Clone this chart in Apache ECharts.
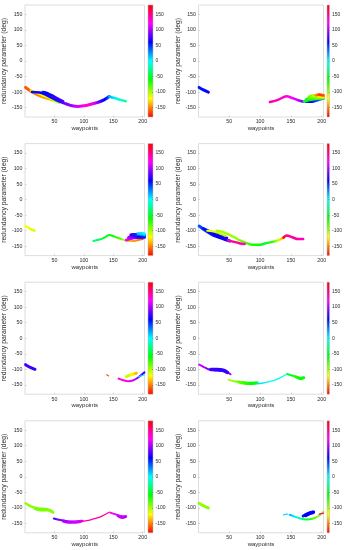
<!DOCTYPE html>
<html><head><meta charset="utf-8">
<script src="https://cdn.jsdelivr.net/npm/echarts@6/dist/echarts.min.js"></script>
<style>html,body{margin:0;padding:0;background:#fff}#c{width:345px;height:550px}</style>
</head><body><div id="c"></div><script>
// ---- tick labels ----
const xTicks = [50, 100, 150, 200];
const yTicks = [-150, -100, -50, 0, 50, 100, 150];
const cbTicks = [-150, -100, -50, 0, 50, 100, 150];
const cbRange = [-180, 180];
const xTitle = 'waypoints';
const yTitle = 'redundancy parameter (deg)';

// ---- data: [waypoint, redundancy parameter (deg), colour value (deg)] ----
// panel 1 (top left)
const p1_orange = [[1,-85,-160],[10,-97,-155],[20,-107,-150],[30,-115,-145],[40,-121,-138],[50,-128,-120]];
const p1_yellow = [[10,-95,-130],[20,-102,-125],[30,-110,-118],[40,-117,-110],[50,-126,-95],[58,-133,-70]];
const p1_blue1 = [[12,-100,55],[25,-101,60],[35,-108,62],[45,-118,65],[55,-127,70],[65,-135,80],[75,-141,90]];
const p1_blue2 = [[30,-100,55],[36,-102,60],[45,-110,65],[55,-120,70],[65,-130,78]];
const p1_main = [[70,-138,90],[80,-144,100],[90,-146,110],[100,-144,125],[110,-140,130],[118,-136,110],[125,-132,85],[135,-124,60],[143,-114,40]];
const p1_tail = [[143,-114,20],[152,-119,5],[162,-125,-10],[171,-129,-25]];
// panel 2 (top right)
const p2_start = [[1,-85,55],[8,-93,58],[16,-100,62]];
const p2_main = [[116,-132,140],[130,-124,135],[143,-113,130],[152,-119,120],[162,-126,105],[172,-131,80],[182,-131,60],[192,-127,45],[203,-121,30]];
const p2_g1 = [[172,-130,-40],[180,-125,-55],[190,-121,-75],[203,-118,-95]];
const p2_g2 = [[175,-125,-60],[182,-118,-80],[192,-115,-100],[203,-114,-120]];
const p2_g3 = [[180,-115,-85],[188,-111,-105],[196,-111,-130],[203,-112,-145]];
const p2_r = [[190,-110,-145],[196,-108,-170],[203,-110,-160]];
// panel 3 (second row left)
const p3_start = [[1,-85,-120],[8,-93,-115],[16,-100,-110]];
const p3_main = [[116,-133,-30],[125,-129,-40],[135,-122,-50],[143,-114,-60],[152,-119,-65],[162,-126,-80],[172,-132,-110],[182,-133,-140],[192,-130,-150],[200,-127,-160]];
const p3_b1 = [[172,-130,120],[180,-125,105],[190,-122,80],[203,-121,60]];
const p3_b2 = [[176,-122,100],[183,-116,80],[193,-116,60],[203,-117,45]];
const p3_b3 = [[180,-113,70],[188,-112,50],[196,-111,25],[203,-112,15]];
const p3_c = [[192,-110,15],[198,-108,5],[203,-109,0]];
// panel 4 (second row right)
const p4_b1 = [[1,-85,40],[10,-98,50],[20,-110,55],[30,-119,60],[40,-126,62],[51,-133,65]];
const p4_b2 = [[8,-93,55],[18,-103,60],[28,-110,62],[38,-117,65],[46,-124,70]];
const p4_y1 = [[14,-100,-115],[22,-102,-115],[30,-106,-110],[38,-112,-105],[44,-117,-100]];
const p4_y2 = [[30,-100,-100],[38,-103,-100],[48,-111,-98],[58,-121,-95],[68,-132,-90],[78,-140,-80],[88,-145,-65],[100,-145,-55],[110,-140,-50],[120,-136,-70],[130,-130,-110],[138,-122,-140]];
const p4_pink = [[48,-131,140],[56,-135,145],[66,-140,140],[75,-143,130]];
const p4_tail = [[138,-122,170],[143,-115,150],[152,-121,145],[162,-127,140],[170,-127,135]];
// panel 5 (third row left)
const p5_start = [[1,-85,75],[8,-93,75],[17,-100,72]];
const p5_dot = [[139,-118,-165],[142,-121,-165]];
const p5_main = [[159,-130,130],[167,-135,128],[175,-138,125],[183,-136,110],[191,-128,90],[200,-114,75],[203,-110,72]];
const p5_cyan = [[193,-124,10],[203,-118,0]];
const p5_leaf1 = [[172,-124,-110],[178,-119,-115],[184,-115,-125],[189,-113,-140]];
const p5_leaf2 = [[175,-121,-105],[182,-116,-120],[188,-113,-135]];
// panel 6 (third row right)
const p6_s1 = [[1,-85,110],[8,-92,100],[16,-100,90],[25,-103,80],[35,-105,75],[45,-108,75],[52,-116,100]];
const p6_s2 = [[20,-101,75],[30,-101,72],[40,-103,70],[47,-110,75]];
const p6_g1 = [[49,-134,-100],[60,-139,-90],[70,-141,-80],[80,-143,-65],[90,-143,-60],[96,-142,-60]];
const p6_g2 = [[65,-141,-85],[75,-145,-70],[85,-146,-60],[93,-144,-60]];
const p6_cyan = [[93,-147,10],[105,-144,5],[118,-138,0],[130,-130,-5],[143,-116,-10]];
const p6_e1 = [[144,-115,-40],[152,-120,-55],[162,-126,-65],[170,-128,-60]];
const p6_e2 = [[158,-124,-65],[166,-130,-60],[171,-127,-60]];
// panel 7 (bottom left)
const p7_a1 = [[1,-85,-95],[10,-95,-92],[20,-101,-90],[30,-103,-90],[40,-106,-90],[48,-115,-95]];
const p7_a2 = [[18,-103,-88],[28,-107,-88],[38,-107,-90],[46,-112,-92]];
const p7_b1 = [[49,-134,80],[60,-139,90],[70,-142,100],[80,-144,105],[90,-143,110],[98,-141,115]];
const p7_b2 = [[65,-142,100],[75,-146,105],[85,-146,110],[95,-143,110]];
const p7_pink = [[98,-143,140],[110,-139,145],[120,-134,145],[130,-127,145],[143,-114,145]];
const p7_e1 = [[145,-115,120],[153,-120,115],[162,-126,110],[170,-128,105]];
const p7_e2 = [[158,-125,110],[165,-131,105],[171,-128,105]];
// panel 8 (bottom right)
const p8_start = [[1,-85,-95],[8,-93,-92],[16,-100,-90]];
const p8_dot = [[138,-122,10],[144,-120,10]];
const p8_main = [[148,-122,15],[156,-128,5],[165,-134,-20],[175,-137,-50],[185,-135,-75],[195,-126,-90],[203,-112,-100]];
const p8_bb1 = [[170,-126,55],[176,-120,58],[182,-115,60],[187,-113,62]];
const p8_bb2 = [[174,-124,60],[180,-118,60],[186,-115,60]];
const p8_pink = [[196,-120,150],[203,-117,150]];

// ---- panels: [segment, line width] ----
const panels = [
  [[p1_orange,3],[p1_yellow,2.5],[p1_blue2,2.5],[p1_blue1,2.5],[p1_main,3],[p1_tail,2.5]],
  [[p2_start,3],[p2_main,2.5],[p2_g1,3],[p2_g2,3],[p2_g3,3],[p2_r,2.5]],
  [[p3_start,2.5],[p3_main,2],[p3_b1,3],[p3_b2,3],[p3_b3,3],[p3_c,2.5]],
  [[p4_b1,3],[p4_b2,3],[p4_y1,2],[p4_y2,2.5],[p4_pink,2.5],[p4_tail,2.5]],
  [[p5_start,3],[p5_dot,1],[p5_main,2],[p5_cyan,1],[p5_leaf1,3],[p5_leaf2,2.5]],
  [[p6_s1,2],[p6_s2,3.5],[p6_g1,2],[p6_g2,3],[p6_cyan,1.3],[p6_e1,2],[p6_e2,3]],
  [[p7_a1,2.5],[p7_a2,3],[p7_b1,2],[p7_b2,3],[p7_pink,1.3],[p7_e1,2],[p7_e2,3]],
  [[p8_start,3],[p8_dot,1],[p8_main,2],[p8_bb1,3],[p8_bb2,3.5],[p8_pink,1]]
];

// ---- layout ----
const COL_LEFT = [19.5, 198.5];
const ROW_TOP = [5, 143.6, 282.2, 420.8];
const PLOT_W = 125, PLOT_H = 112, CB_GAP = 3.5, CB_W = 5;
const FONT = 'Liberation Sans, Arial, sans-serif';
const TXT = '#2b2b2b';

function hsv(c) {
  const h = (((c + 180) % 360) + 360) % 360 / 60;
  const i = Math.floor(h), f = h - i, q = 1 - f;
  let r, g, b;
  switch (i % 6) {
    case 0: r = 1; g = f; b = 0; break;
    case 1: r = q; g = 1; b = 0; break;
    case 2: r = 0; g = 1; b = f; break;
    case 3: r = 0; g = q; b = 1; break;
    case 4: r = f; g = 0; b = 1; break;
    default: r = 1; g = 0; b = q;
  }
  return 'rgb(' + Math.round(r * 255) + ',' + Math.round(g * 255) + ',' + Math.round(b * 255) + ')';
}
// colour bar fill: top = max, bottom = min
const cbSteps = [180, 120, 60, 0, -60, -120, -180];
const cbFill = () => new echarts.graphic.LinearGradient(0, 0, 0, 1,
  cbSteps.map(v => ({offset: (cbRange[1] - v) / (cbRange[1] - cbRange[0]), color: hsv(v)})));

const chart = echarts.init(document.getElementById('c'), null, {renderer: 'canvas'});
const option = {
  animation: false, backgroundColor: '#fff',
  textStyle: {fontFamily: FONT},
  grid: [], xAxis: [], yAxis: [], series: []
};
const segMeta = [];
const N = panels.length;
panels.forEach((segs, i) => {
  const r = Math.floor(i / 2), c = i % 2;
  const left = COL_LEFT[c], top = ROW_TOP[r];
  option.grid[i] = {left, top, width: PLOT_W, height: PLOT_H, show: true, borderColor: '#d4d4d4', borderWidth: 0.8, backgroundColor: '#fff'};
  option.xAxis[i] = {
    gridIndex: i, type: 'value', min: 0, max: 203,
    name: xTitle, nameLocation: 'middle', nameGap: 8,
    nameTextStyle: {fontSize: 6, color: TXT, fontFamily: FONT},
    axisLine: {show: false, onZero: false}, splitLine: {show: false},
    axisTick: {show: true, inside: true, length: 1.5, customValues: xTicks, lineStyle: {color: '#bbb', width: 0.6}},
    axisLabel: {customValues: xTicks, fontSize: 5.3, margin: 2.5, color: TXT}
  };
  option.yAxis[i] = {
    gridIndex: i, type: 'value', min: -180, max: 180,
    name: yTitle, nameLocation: 'middle', nameGap: 12,
    nameTextStyle: {fontSize: 6.8, color: TXT, fontFamily: FONT},
    axisLine: {show: false, onZero: false}, splitLine: {show: false},
    axisTick: {show: true, inside: true, length: 1.5, customValues: yTicks, lineStyle: {color: '#bbb', width: 0.6}},
    axisLabel: {customValues: yTicks, fontSize: 5.3, margin: 2.5, color: TXT}
  };
  const cbLeft = left + PLOT_W + CB_GAP;
  option.grid[N + i] = {left: cbLeft, top, width: CB_W, height: PLOT_H, show: true,
    borderColor: '#bbb', borderWidth: 0.5, backgroundColor: cbFill()};
  option.xAxis[N + i] = {gridIndex: N + i, type: 'value', min: 0, max: 1, show: false};
  option.yAxis[N + i] = {
    gridIndex: N + i, type: 'value', min: cbRange[0], max: cbRange[1], position: 'right',
    axisLine: {show: false, onZero: false}, splitLine: {show: false},
    axisTick: {show: true, inside: true, length: 1, customValues: cbTicks, lineStyle: {color: '#666', width: 0.5}},
    axisLabel: {customValues: cbTicks, fontSize: 5, margin: 2.5, color: TXT}
  };
  segs.forEach(([pts, w]) => {
    option.series.push({
      type: 'line', xAxisIndex: i, yAxisIndex: i,
      data: pts.map(p => [p[0], p[1]]),
      smooth: 0.35, symbol: 'none', silent: true, z: 3,
      lineStyle: {width: w, cap: 'round', color: hsv(pts[0][2])}
    });
    segMeta.push({i, pts});
  });
});
chart.setOption(option);

// colour each line along its waypoints from its colour values
const upd = segMeta.map(m => {
  const a = m.pts[0][0], b = m.pts[m.pts.length - 1][0];
  const x0 = chart.convertToPixel({gridIndex: m.i}, [a, 0])[0];
  const x1 = chart.convertToPixel({gridIndex: m.i}, [b, 0])[0];
  const stops = m.pts.map(p => ({offset: (p[0] - a) / (b - a), color: hsv(p[2])}));
  return {lineStyle: {color: new echarts.graphic.LinearGradient(x0, 0, x1, 0, stops, true)}};
});
chart.setOption({series: upd});
</script></body></html>
